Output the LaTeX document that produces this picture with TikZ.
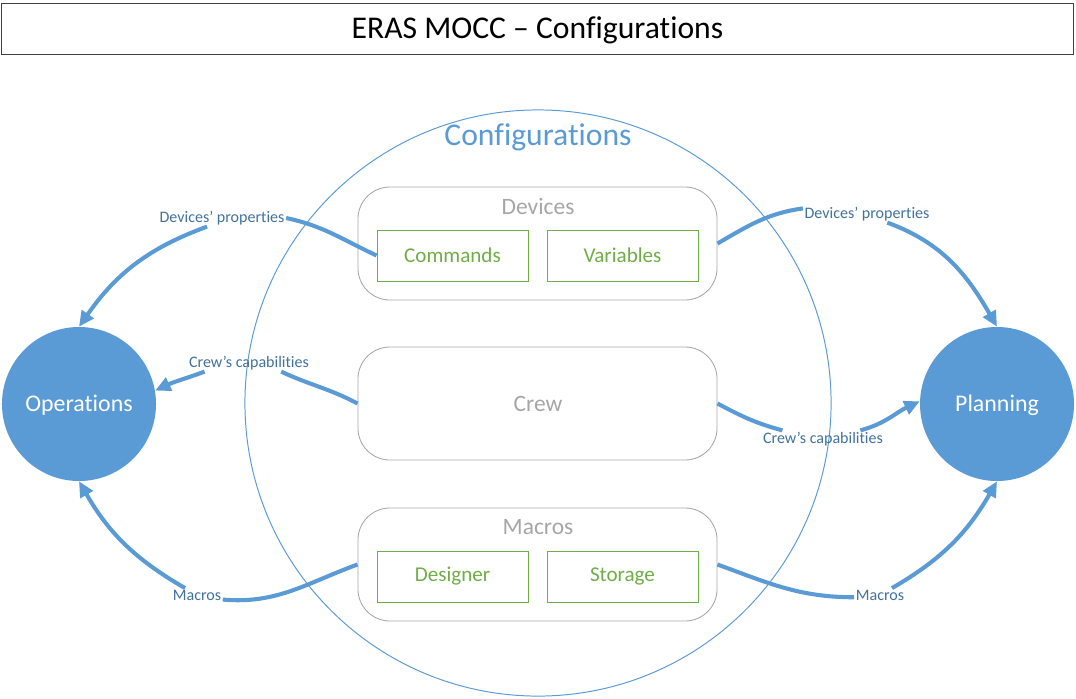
\documentclass[tikz,border=0pt]{standalone}
\usepackage{fontspec}
\setmainfont{Carlito}[Ligatures=NoCommon]
\usetikzlibrary{arrows.meta}
\definecolor{cfgblue}{HTML}{5B9BD5}
\definecolor{lblblue}{HTML}{41719C}
\definecolor{boxgray}{HTML}{A6A6A6}
\definecolor{itemgreen}{HTML}{70AD47}
\definecolor{framegray}{HTML}{404040}
\begin{document}
\begin{tikzpicture}[x=0.025cm, y=-0.025cm,
  group/.style={draw=boxgray, line width=0.6pt, rounded corners=0.8cm, minimum width=8.975cm, minimum height=2.825cm},
  grouptext/.style={text=boxgray, font=\fontsize{16.7}{20}\selectfont},
  item/.style={draw=itemgreen, line width=0.6pt, text=itemgreen, minimum width=3.775cm, minimum height=1.275cm, font=\fontsize{15}{18}\selectfont},
  side/.style={circle, fill=cfgblue, text=white, minimum size=3.85cm, font=\fontsize{17}{20}\selectfont},
  flowlabel/.style={text=lblblue, inner sep=1pt, font=\fontsize{11.4}{13}\selectfont},
  flow/.style={draw=cfgblue, line width=2.9pt},
  flowtip/.style={flow, -{Triangle[length=11pt, width=10pt]}}
]
\useasboundingbox (0,0) rectangle (1076,698);

% title
\node[draw=framegray, line width=0.7pt, minimum width=26.775cm, minimum height=1.275cm, text height=0.6cm, text depth=0.08cm, font=\fontsize{22.5}{27}\selectfont] (title) at (537.5,28.5) {ERAS MOCC -- Configurations};

% configurations circle
\draw[cfgblue, line width=0.7pt] (538,403) circle [radius=7.325cm];
\node[text=cfgblue, font=\fontsize{22.5}{27}\selectfont] (cfg) at (538,137) {Configurations};

% groups
\node[group] (dev) at (537.5,243.5) {};
\node[grouptext] (devtxt) at (538,207) {Devices};
\node[item] (cmd) at (452.5,255.5) {Commands};
\node[item] (var) at (622.5,255.5) {Variables};

\node[group] (crew) at (537.5,403.5) {};
\node[grouptext] (crewtxt) at (538,404) {Crew};

\node[group] (mac) at (537.5,564.5) {};
\node[grouptext] (mactxt) at (538,527) {Macros};
\node[item] (des) at (452.5,576.5) {Designer};
\node[item] (sto) at (622.5,576.5) {Storage};

% sides
\node[side, text depth=0.05cm] (ops) at (79,404) {Operations};
\node[side, text depth=0.05cm] (pln) at (997,404) {Planning};

% labels
\node[flowlabel] (dpL) at (222,218) {Devices’ properties};
\node[flowlabel] (cpL) at (249,363) {Crew’s capabilities};
\node[flowlabel] (mcL) at (197,595) {Macros};
\node[flowlabel] (dpR) at (867,214) {Devices’ properties};
\node[flowlabel] (cpR) at (823,439) {Crew’s capabilities};
\node[flowlabel] (mcR) at (880,595) {Macros};

% flows to operations
\draw[flow] (cmd.west) to[out=155, in=-12] (dpL.east);
\draw[flowtip] (dpL.210) to[out=200, in=55] (ops.north);
\draw[flow] (crew.west) to[out=152, in=-25] (cpL.-15);
\draw[flowtip] (cpL.191) to[out=200, in=25] (ops.10);
\draw[flow] (mac.west) to[out=200, in=-5] (mcL.-10);
\draw[flowtip] (mcL.150) to[out=150, in=-60] (ops.south);

% flows to planning
\draw[flow] (dev.east) to[out=30, in=188] (dpR.175);
\draw[flowtip] (dpR.-23) to[out=-20, in=120] (pln.north);
\draw[flow] (crew.east) to[out=-28, in=165] (cpR.168);
\draw[flowtip] (cpR.13) to[out=15, in=205] (pln.178);
\draw[flow] (mac.east) to[out=-20, in=180] (mcR.185);
\draw[flowtip] (mcR.30) to[out=30, in=240] (pln.south);
\end{tikzpicture}
\end{document}
